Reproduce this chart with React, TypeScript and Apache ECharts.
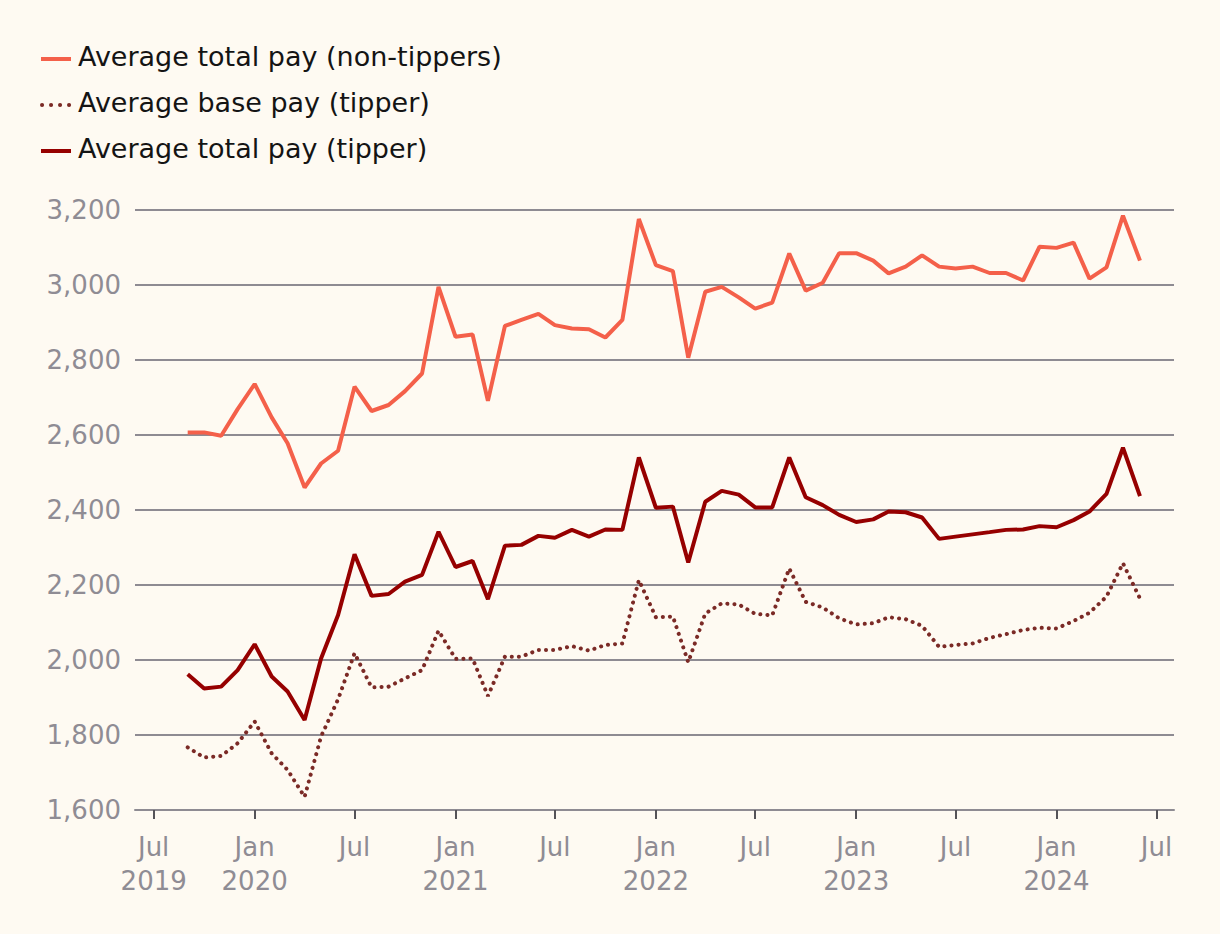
import React, { useEffect, useRef } from "react";
import * as echarts from "echarts";

const months = [
  "2019-09-01", "2019-10-01", "2019-11-01", "2019-12-01",
  "2020-01-01", "2020-02-01", "2020-03-01", "2020-04-01", "2020-05-01", "2020-06-01",
  "2020-07-01", "2020-08-01", "2020-09-01", "2020-10-01", "2020-11-01", "2020-12-01",
  "2021-01-01", "2021-02-01", "2021-03-01", "2021-04-01", "2021-05-01", "2021-06-01",
  "2021-07-01", "2021-08-01", "2021-09-01", "2021-10-01", "2021-11-01", "2021-12-01",
  "2022-01-01", "2022-02-01", "2022-03-01", "2022-04-01", "2022-05-01", "2022-06-01",
  "2022-07-01", "2022-08-01", "2022-09-01", "2022-10-01", "2022-11-01", "2022-12-01",
  "2023-01-01", "2023-02-01", "2023-03-01", "2023-04-01", "2023-05-01", "2023-06-01",
  "2023-07-01", "2023-08-01", "2023-09-01", "2023-10-01", "2023-11-01", "2023-12-01",
  "2024-01-01", "2024-02-01", "2024-03-01", "2024-04-01", "2024-05-01", "2024-06-01",
];

const nonTipperTotal = [
  2607, 2607, 2598, 2669, 2736, 2647, 2578, 2460, 2524, 2558,
  2729, 2664, 2680, 2717, 2764, 2995, 2862, 2868, 2691, 2891,
  2907, 2923, 2893, 2884, 2882, 2860, 2907, 3176, 3053, 3037,
  2806, 2982, 2995, 2967, 2937, 2953, 3084, 2985, 3006, 3085,
  3085, 3065, 3031, 3049, 3079, 3049, 3044, 3049, 3032, 3032,
  3012, 3102, 3099, 3113, 3017, 3047, 3185, 3065,
];

const tipperBase = [
  1767, 1740, 1744, 1778, 1836, 1751, 1707, 1635, 1796, 1895,
  2018, 1927, 1929, 1951, 1973, 2078, 2003, 2004, 1904, 2009,
  2009, 2027, 2027, 2037, 2025, 2040, 2044, 2213, 2114, 2116,
  1994, 2124, 2151, 2148, 2123, 2119, 2244, 2155, 2140, 2111,
  2095, 2098, 2114, 2109, 2091, 2035, 2040, 2044, 2059, 2069,
  2080, 2086, 2084, 2104, 2126, 2169, 2258, 2164,
];

const tipperTotal = [
  1962, 1924, 1929, 1973, 2042, 1956, 1916, 1840, 2004, 2120,
  2282, 2171, 2176, 2209, 2227, 2342, 2248, 2264, 2162, 2305,
  2307, 2331, 2326, 2347, 2329, 2348, 2347, 2540, 2406, 2409,
  2260, 2422, 2451, 2441, 2407, 2407, 2540, 2434, 2413, 2387,
  2368, 2375, 2396, 2394, 2380, 2323, 2329, 2335, 2341, 2347,
  2348, 2357, 2354, 2373, 2396, 2443, 2566, 2437,
];

const xTicks = [
  "2019-07-01", "2020-01-01", "2020-07-01", "2021-01-01", "2021-07-01", "2022-01-01",
  "2022-07-01", "2023-01-01", "2023-07-01", "2024-01-01", "2024-07-01",
];

const seriesNames = [
  "Average total pay (non-tippers)",
  "Average base pay (tipper)",
  "Average total pay (tipper)",
];

const FONT = "'DejaVu Sans', sans-serif";
const BG = "#FEFAF2";
const GRID = "#8E8B92";
const LABEL = "#8F8C94";
const C_NON = "#F4604A";
const C_BASE = "#7B2A26";
const C_TOT = "#960000";

function toTs(s: string) {
  const [y, m, d] = s.split("-").map(Number);
  return Date.UTC(y, m - 1, d);
}

export default function App() {
  const ref = useRef<HTMLDivElement>(null);
  useEffect(() => {
    if (!ref.current) return;
    const chart = echarts.init(ref.current, undefined, { renderer: "svg" });
    const tickTs = xTicks.map(toTs);
    const pair = (vals: number[]) => months.map((m, i) => [toTs(m), vals[i]]);
    const legendItems = [
      { name: seriesNames[0], color: C_NON, dash: null as number[] | null, width: 4 },
      { name: seriesNames[1], color: C_BASE, dash: [0.1, 8.9], width: 4 },
      { name: seriesNames[2], color: C_TOT, dash: null as number[] | null, width: 4 },
    ];
    const graphic: any[] = [];
    legendItems.forEach((it, i) => {
      const cy = 59 + i * 46;
      graphic.push({
        type: "line",
        shape: it.dash ? { x1: 42, y1: cy, x2: 70, y2: cy } : { x1: 41, y1: cy, x2: 71, y2: cy },
        style: {
          stroke: it.color,
          lineWidth: it.width,
          lineDash: it.dash || undefined,
          lineCap: it.dash ? "round" : "butt",
        },
      });
      graphic.push({
        type: "text",
        left: 78,
        top: cy - 4 - 15,
        style: {
          text: it.name,
          fontFamily: FONT,
          fontSize: 27,
          fill: "#141414",
          lineHeight: 32,
        },
      });
    });
    chart.setOption({
      animation: false,
      backgroundColor: BG,
      textStyle: { fontFamily: FONT },
      graphic,
      grid: { left: 135, right: 46, top: 210, bottom: 124 },
      xAxis: {
        type: "value",
        min: toTs("2019-05-28"),
        max: toTs("2024-08-02"),
        axisLine: { show: true, lineStyle: { color: GRID, width: 2 } },
        axisTick: {
          show: true,
          length: 9,
          lineStyle: { color: "#555358", width: 2 },
          customValues: tickTs,
        },
        splitLine: { show: false },
        axisLabel: {
          customValues: tickTs,
          fontFamily: FONT,
          fontSize: 26,
          lineHeight: 34,
          color: LABEL,
          margin: 20,
          hideOverlap: false,
          formatter: (v: number) => {
            const d = new Date(v);
            const mo = d.getUTCMonth();
            const y = d.getUTCFullYear();
            if (mo === 0) return "Jan\n" + y;
            return y === 2019 ? "Jul\n" + y : "Jul";
          },
        },
      },
      yAxis: {
        type: "value",
        min: 1600,
        max: 3200,
        interval: 200,
        axisLine: { show: false },
        axisTick: { show: false },
        splitLine: { show: true, lineStyle: { color: GRID, width: 2 } },
        axisLabel: {
          fontFamily: FONT,
          fontSize: 26,
          color: LABEL,
          margin: 14,
          formatter: (v: number) => v.toLocaleString("en-US"),
        },
      },
      series: [
        {
          name: seriesNames[0],
          type: "line",
          symbol: "none",
          data: pair(nonTipperTotal),
          lineStyle: { color: C_NON, width: 4 },
          itemStyle: { color: C_NON },
          z: 3,
        },
        {
          name: seriesNames[1],
          type: "line",
          symbol: "none",
          data: pair(tipperBase),
          lineStyle: { color: C_BASE, width: 4, type: [0.1, 7], cap: "round" },
          itemStyle: { color: C_BASE },
          z: 2,
        },
        {
          name: seriesNames[2],
          type: "line",
          symbol: "none",
          data: pair(tipperTotal),
          lineStyle: { color: C_TOT, width: 4 },
          itemStyle: { color: C_TOT },
          z: 4,
        },
      ],
    });
    return () => chart.dispose();
  }, []);
  return (
    <div
      ref={ref}
      style={{ position: "absolute", left: 0, top: 0, width: 1220, height: 934, background: BG }}
    />
  );
}
